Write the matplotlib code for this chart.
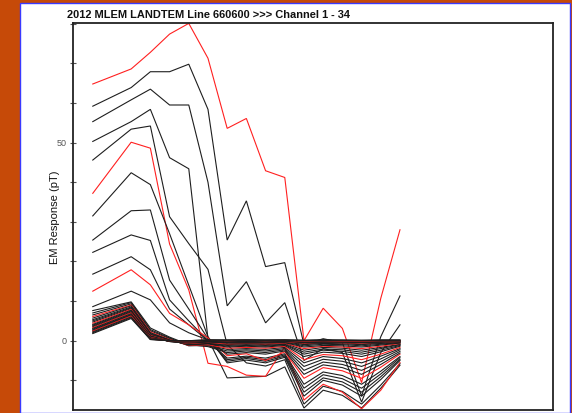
import matplotlib
matplotlib.use("Agg")
import matplotlib.pyplot as plt
from matplotlib.patches import Rectangle

# Station positions (relative) along the line
stations = [0, 2, 3, 4, 5, 6, 7, 8, 9, 10, 11, 12, 13, 14, 15, 16]

ch01 = [64.8, 68.6, 72.8, 77.4, 80.1, 71.3, 53.6, 56.1, 42.9, 41.2, 0.0, 8.2, 3.1, -10.6, 10.7, 28.0]
ch02 = [59.2, 63.9, 67.9, 67.9, 69.8, 58.4, 25.4, 35.3, 18.7, 19.7, -1.0, 0.5, -0.5, -14.0, 1.0, 11.3]
ch03 = [55.3, 60.8, 63.5, 59.5, 59.5, 40.0, 8.8, 14.9, 4.5, 9.6, -5.0, -2.0, -3.0, -15.5, -3.0, 4.0]
ch04 = [50.3, 55.3, 58.4, 46.2, 43.4, 0.5, -9.4, -9.2, -9.0, -6.6, -17.0, -12.5, -13.8, -17.0, -12.0, -6.2]
ch05 = [45.6, 53.4, 54.2, 31.3, 24.5, 18.0, -1.0, -5.6, -6.4, -4.8, -16.0, -11.5, -12.8, -16.0, -11.2, -5.8]
ch06 = [37.2, 50.1, 48.6, 24.4, 12.8, -5.7, -6.5, -8.7, -9.0, -1.5, -15.0, -11.0, -13.0, -17.2, -12.5, -5.5]
ch07 = [31.5, 42.4, 39.4, 27.0, 14.0, 1.0, -5.6, -4.9, -5.6, -4.2, -14.0, -10.0, -11.2, -14.0, -9.8, -5.0]
ch08 = [25.4, 32.8, 33.0, 15.3, 8.0, 0.5, -5.2, -4.5, -5.2, -3.9, -13.0, -9.4, -10.4, -13.0, -9.1, -4.7]
ch09 = [22.3, 26.7, 25.3, 10.3, 5.0, 0.0, -4.8, -4.2, -4.8, -3.6, -12.0, -8.6, -9.6, -12.0, -8.4, -4.3]
ch10 = [16.8, 21.2, 17.9, 8.0, 4.0, 0.0, -4.4, -3.9, -4.4, -3.3, -11.0, -7.9, -8.8, -11.0, -7.7, -4.0]
ch11 = [12.5, 17.9, 14.1, 6.9, 4.0, 0.7, -3.8, -3.3, -5.0, -2.8, -9.5, -6.8, -7.6, -9.5, -6.7, -3.4]
ch12 = [8.6, 12.5, 10.3, 4.5, 2.0, 0.2, -3.4, -3.0, -3.4, -2.6, -8.5, -6.1, -6.8, -8.5, -6.0, -3.1]
ch13 = [7.6, 9.8, 3.2, 0.9, -1.0, -1.5, -3.0, -2.6, -3.0, -2.3, -7.5, -5.4, -6.0, -7.5, -5.3, -2.7]
ch14 = [7.0, 9.6, 2.8, 0.7, -1.2, -1.3, -2.6, -2.3, -2.6, -2.0, -6.5, -4.7, -5.2, -6.5, -4.6, -2.3]
ch15 = [6.5, 9.3, 2.5, 0.5, -1.3, -1.1, -2.2, -2.0, -2.2, -1.7, -5.6, -4.0, -4.5, -5.6, -3.9, -2.0]
ch16 = [6.1, 9.0, 2.2, 0.3, -1.2, -1.0, -1.9, -1.7, -1.9, -1.4, -4.8, -3.5, -3.8, -4.8, -3.4, -1.7]
ch17 = [5.7, 8.8, 2.0, 0.2, -1.1, -0.8, -1.6, -1.4, -1.6, -1.2, -4.0, -2.9, -3.2, -4.0, -2.8, -1.4]
ch18 = [5.3, 8.5, 1.8, 0.1, -1.0, -0.7, -1.4, -1.2, -1.4, -1.0, -3.4, -2.4, -2.7, -3.4, -2.4, -1.2]
ch19 = [5.0, 8.3, 1.6, 0.0, -0.9, -0.6, -1.2, -1.0, -1.2, -0.9, -2.9, -2.1, -2.3, -2.9, -2.0, -1.0]
ch20 = [4.7, 8.1, 1.5, -0.1, -0.8, -0.5, -1.0, -0.8, -1.0, -0.7, -2.4, -1.7, -1.9, -2.4, -1.7, -0.9]
ch21 = [4.4, 7.9, 1.3, -0.1, -0.7, -0.4, -0.8, -0.7, -0.8, -0.6, -2.0, -1.4, -1.6, -2.0, -1.4, -0.7]
ch22 = [4.1, 7.7, 1.2, -0.2, -0.6, -0.3, -0.6, -0.6, -0.6, -0.5, -1.6, -1.2, -1.3, -1.6, -1.1, -0.6]
ch23 = [3.9, 7.5, 1.1, -0.2, -0.5, -0.3, -0.5, -0.5, -0.5, -0.4, -1.3, -0.9, -1.0, -1.3, -0.9, -0.5]
ch24 = [3.7, 7.3, 1.0, -0.2, -0.5, -0.2, -0.4, -0.4, -0.4, -0.3, -1.0, -0.7, -0.8, -1.0, -0.7, -0.4]
ch25 = [3.5, 7.1, 0.9, -0.2, -0.4, -0.2, -0.3, -0.3, -0.3, -0.2, -0.8, -0.6, -0.6, -0.8, -0.6, -0.3]
ch26 = [3.3, 7.0, 0.8, -0.1, -0.3, -0.1, -0.2, -0.2, -0.2, -0.2, -0.6, -0.4, -0.5, -0.6, -0.4, -0.2]
ch27 = [3.1, 6.8, 0.7, -0.1, -0.3, -0.1, -0.2, -0.2, -0.2, -0.1, -0.5, -0.4, -0.4, -0.5, -0.4, -0.2]
ch28 = [2.9, 6.6, 0.6, -0.1, -0.2, -0.1, -0.2, -0.1, -0.2, -0.1, -0.4, -0.3, -0.3, -0.4, -0.3, -0.1]
ch29 = [2.7, 6.5, 0.5, 0.0, -0.2, -0.1, -0.1, -0.1, -0.1, -0.1, -0.3, -0.2, -0.2, -0.3, -0.2, -0.1]
ch30 = [2.5, 6.3, 0.5, 0.0, -0.1, 0.0, -0.1, -0.1, -0.1, 0.0, -0.2, -0.1, -0.2, -0.2, -0.1, -0.1]
ch31 = [2.4, 6.2, 0.4, 0.0, -0.1, 0.1, 0.0, 0.1, 0.0, 0.1, -0.1, 0.0, -0.1, -0.1, 0.0, 0.0]
ch32 = [2.2, 6.0, 0.4, 0.0, -0.1, 0.1, 0.1, 0.1, 0.1, 0.1, 0.0, 0.1, 0.0, 0.0, 0.1, 0.1]
ch33 = [2.0, 5.8, 0.3, 0.0, 0.0, 0.2, 0.1, 0.2, 0.1, 0.2, 0.1, 0.2, 0.1, 0.1, 0.1, 0.1]
ch34 = [1.8, 5.6, 0.3, 0.0, 0.0, 0.2, 0.2, 0.2, 0.2, 0.2, 0.1, 0.2, 0.2, 0.1, 0.2, 0.2]

channels = [ch01, ch02, ch03, ch04, ch05, ch06, ch07, ch08, ch09, ch10,
            ch11, ch12, ch13, ch14, ch15, ch16, ch17, ch18, ch19, ch20,
            ch21, ch22, ch23, ch24, ch25, ch26, ch27, ch28, ch29, ch30,
            ch31, ch32, ch33, ch34]
red_channels = [1, 6, 11, 16, 21, 26, 31]

title = "2012 MLEM LANDTEM Line 660600 >>> Channel 1 - 34"
ylabel = "EM Response (pT)"
ytick_major = [0, 50]
ytick_minor = [-10, 10, 20, 30, 40, 60, 70, 80]

W, H = 572, 413
fig = plt.figure(figsize=(W / 100, H / 100), dpi=100)
fig.patch.set_facecolor("#c64a08")

# white slide panel with thin blue border
panel = Rectangle((20 / W, 0), 550 / W, (H - 3) / H, transform=fig.transFigure,
                  facecolor="white", edgecolor="#3a3aff", linewidth=1.0, zorder=-10)
fig.patches.append(panel)

ax = fig.add_axes([73 / W, 3 / H, 480 / W, 387 / H])
ax.set_zorder(5)
ax.set_facecolor("white")

for i, vals in enumerate(channels, start=1):
    col = "#ff2020" if i in red_channels else "#1e1e1e"
    ax.plot(stations, vals, color=col, linewidth=0.8, solid_joinstyle="miter")

ax.set_xlim(-1.03, 23.97)
ax.set_ylim(-17.5, 80.2)
ax.set_xticks([])
ax.set_yticks(ytick_major)
ax.set_yticks(ytick_minor, minor=True)
ax.set_yticklabels([str(v) for v in ytick_major], fontsize=6.5, color="#555555",
                   family="Liberation Sans")
ax.tick_params(axis="y", which="both", direction="inout", length=5, width=0.8,
               color="#555555", pad=2)
for s in ax.spines.values():
    s.set_linewidth(1.3)
    s.set_color("#222222")

fig.text(55 / W, (H - 217) / H, ylabel, fontsize=8, family="Liberation Sans",
         rotation=90, ha="center", va="center", color="#111111")
fig.text(67 / W, (H - 18) / H, title, fontsize=7.9, fontweight="bold",
         family="Liberation Sans", ha="left", va="baseline", color="#111111")

fig.savefig("out.png", dpi=100, facecolor=fig.get_facecolor())
